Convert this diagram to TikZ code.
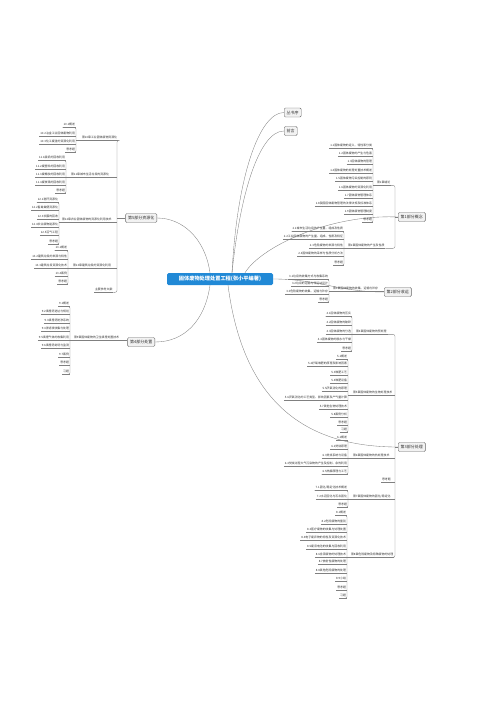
\documentclass[tikz,border=0pt]{standalone}
\usepackage{fontspec}
\usetikzlibrary{positioning,calc}
\newfontfamily\cjk{Noto Sans CJK SC}
\definecolor{MapBlue}{RGB}{33,137,214}
\definecolor{LineGray}{RGB}{128,128,128}
\definecolor{BoxGray}{RGB}{242,242,242}
\definecolor{TextGray}{RGB}{51,51,51}

\begin{document}
\begin{tikzpicture}[
    x=1pt, y=-1pt,
    link/.style={draw=LineGray, line width=0.35pt},
    root/.style={
        fill=MapBlue,
        rounded corners=1.5pt,
        text=white,
        font=\cjk\bfseries\fontsize{5.2}{6}\selectfont,
        minimum width=106pt,
        minimum height=12pt,
        inner sep=1pt
    },
    part/.style={
        draw=LineGray!80!black,
        fill=BoxGray,
        line width=0.4pt,
        rounded corners=1.2pt,
        font=\cjk\fontsize{4}{5}\selectfont,
        text=TextGray,
        minimum height=9pt,
        inner xsep=2.5pt,
        inner ysep=0pt,
        anchor=west
    },
    chap/.style={
        font=\cjk\fontsize{2.9}{3.5}\selectfont,
        text=TextGray,
        inner xsep=0.8pt,
        inner ysep=0.8pt,
        text height=2.2pt,
        text depth=0.5pt,
        anchor=west,
        append after command={(\tikzlastnode.south west) edge[link] (\tikzlastnode.south east)}
    },
    leaf/.style={chap, anchor=east}
]
\useasboundingbox (0,0) rectangle (500,707);

% centre and first level
\node[root] (root) at (220,279) {固体废物处理处置工程(张小平编著)};
\node[part] (cs) at (284,112.5) {丛书序};
\node[part] (qy) at (284,131) {前言};
\node[part] (p1) at (398,217) {第1部分概念};
\node[part] (p2) at (384,292) {第2部分收运};
\node[part] (p3) at (398,447) {第3部分处理};
\node[part, anchor=east] (p5) at (157,218) {第5部分资源化};
\node[part, anchor=east] (p4) at (155,342) {第4部分处置};

\draw[link] ([xshift=12pt]root.north) .. controls +(5,-95) and +(-25,0) .. (cs.west);
\draw[link] ([xshift=12pt]root.north) .. controls +(8,-78) and +(-25,0) .. (qy.west);
\draw[link] ([xshift=25pt]root.north) .. controls +(15,-25) and +(-70,-3) .. (p1.west);
\draw[link] (root.east) .. controls +(45,0) and +(-45,0) .. (p2.west);
\draw[link] ([xshift=8pt]root.south) .. controls +(15,115) and +(-95,0) .. (p3.west);
\draw[link] ([xshift=-10pt]root.north) .. controls +(-5,-35) and +(25,0) .. (p5.east);
\draw[link] ([xshift=-10pt]root.south) .. controls +(-5,35) and +(30,0) .. (p4.east);

% part 1
\node[chap] (g11) at (376,183) {第1章绪论};
\node[leaf] (g11-1) at (373,146) {1.1固体废物的定义、特性和分类};
\node[leaf] (g11-2) at (373,154) {1.2固体废物的产生与危害};
\node[leaf] (g11-3) at (373,162) {1.3固体废物的管理};
\node[leaf] (g11-4) at (373,171) {1.4固体废物的处理处置技术概述};
\node[leaf] (g11-5) at (373,179) {1.5固体废物污染控制的原则};
\node[leaf] (g11-6) at (373,188) {1.6固体废物的资源化利用};
\node[leaf] (g11-7) at (373,196) {1.7固体废物管理体系};
\node[leaf] (g11-8) at (373,204) {1.8我国固体废物管理的法律法规及标准体系};
\node[leaf] (g11-9) at (373,212) {1.9固体废物管理制度};
\node[leaf] (g11-10) at (373,220) {思考题};
\draw[link, rounded corners=1.5pt] (g11-1.south west) -- (g11-1.south east) -- (g11-10.south east) -- (g11-10.south west);
\draw[link] (g11-1.south east |- g11.south west) -- (g11.south west);

\node[chap] (g12) at (347,246) {第2章固体废物的产生及性质};
\node[leaf] (g12-1) at (344,229) {2.1城市生活垃圾的产生量、组成及性质};
\node[leaf] (g12-2) at (344,237) {2.2工业固体废物的产生量、组成、性质及特征};
\node[leaf] (g12-3) at (344,246) {2.3危险废物的来源与特性};
\node[leaf] (g12-4) at (344,254) {2.4固体废物的采样与性质分析方法};
\node[leaf] (g12-5) at (344,263) {思考题};
\draw[link, rounded corners=1.5pt] (g12-1.south west) -- (g12-1.south east) -- (g12-5.south east) -- (g12-5.south west);
\draw[link] (g12-1.south east |- g12.south west) -- (g12.south west);

\coordinate (c1) at (395,0);
\draw[link, rounded corners=2pt] (g11.south east) -- (g11.south east -| c1) -- (g12.south east -| c1) -- (g12.south east);
\draw[link] (p1.west) -- (p1.west -| c1);

% part 2
\node[chap] (g21) at (332,289) {第3章固体废物的收集、运输与贮存};
\node[leaf] (g21-1) at (329,277) {3.1垃圾的收集方式与收集系统};
\node[leaf] (g21-2) at (329,284) {3.2垃圾的运输与转运站设计};
\node[leaf] (g21-3) at (329,292) {3.3危险废物的收集、运输与贮存};
\node[leaf] (g21-4) at (329,300) {思考题};
\draw[link, rounded corners=1.5pt] (g21-1.south west) -- (g21-1.south east) -- (g21-4.south east) -- (g21-4.south west);
\draw[link] (g21-1.south east |- g21.south west) -- (g21.south west);
\draw[link] (g21.south east) -- (g21.south east -| p2.west);

% part 3
\node[chap] (g31) at (355,332) {第4章固体废物的预处理};
\node[leaf] (g31-1) at (352,314) {4.1固体废物的压实};
\node[leaf] (g31-2) at (352,323) {4.2固体废物的破碎};
\node[leaf] (g31-3) at (352,332) {4.3固体废物的分选};
\node[leaf] (g31-4) at (352,340) {4.4固体废物的脱水与干燥};
\node[leaf] (g31-5) at (352,349) {思考题};
\draw[link, rounded corners=1.5pt] (g31-1.south west) -- (g31-1.south east) -- (g31-5.south east) -- (g31-5.south west);
\draw[link] (g31-1.south east |- g31.south west) -- (g31.south west);

\node[chap] (g32) at (352,393) {第5章固体废物的生物处理技术};
\node[leaf] (g32-1) at (348,357) {5.1概述};
\node[leaf] (g32-2) at (348,364) {5.2好氧堆肥的原理及影响因素};
\node[leaf] (g32-3) at (348,373) {5.3堆肥工艺};
\node[leaf] (g32-4) at (348,381) {5.4堆肥设备};
\node[leaf] (g32-5) at (348,389) {5.5厌氧消化的原理};
\node[leaf] (g32-6) at (348,398) {5.6厌氧消化的工艺类型、影响因素及产气量计算};
\node[leaf] (g32-7) at (348,407) {5.7其他生物处理技术};
\node[leaf] (g32-8) at (348,415) {5.8案例分析};
\node[leaf] (g32-9) at (348,423) {思考题};
\node[leaf] (g32-10) at (348,430) {习题};
\draw[link, rounded corners=1.5pt] (g32-1.south west) -- (g32-1.south east) -- (g32-10.south east) -- (g32-10.south west);
\draw[link] (g32-1.south east |- g32.south west) -- (g32.south west);

\node[chap] (g33) at (352,456) {第6章固体废物的热处理技术};
\node[leaf] (g33-1) at (348,438) {6.1概述};
\node[leaf] (g33-2) at (348,447) {6.2焚烧原理};
\node[leaf] (g33-3) at (348,456) {6.3焚烧系统与设备};
\node[leaf] (g33-4) at (348,464) {6.4焚烧过程大气污染物的产生及控制、余热利用};
\node[leaf] (g33-5) at (348,472) {6.5热解原理与工艺};
\draw[link, rounded corners=1.5pt] (g33-1.south west) -- (g33-1.south east) -- (g33-5.south east) -- (g33-5.south west);
\draw[link] (g33-1.south east |- g33.south west) -- (g33.south west);

\node[chap] (g34) at (381,480) {思考题};

\node[chap] (g35) at (352,497) {第7章固体废物的固化/稳定化};
\node[leaf] (g35-1) at (348,488) {7.1固化/稳定化技术概述};
\node[leaf] (g35-2) at (348,497) {7.2水泥固化与石灰固化};
\node[leaf] (g35-3) at (348,505) {思考题};
\draw[link, rounded corners=1.5pt] (g35-1.south west) -- (g35-1.south east) -- (g35-3.south east) -- (g35-3.south west);
\draw[link] (g35-1.south east |- g35.south west) -- (g35.south west);

\node[chap] (g36) at (350,555) {第8章危险废物及特殊废物的处理};
\node[leaf] (g36-1) at (347,513) {8.1概述};
\node[leaf] (g36-2) at (347,522) {8.2危险废物的鉴别};
\node[leaf] (g36-3) at (347,530) {8.3医疗废物的收集与处理处置};
\node[leaf] (g36-4) at (347,538) {8.4电子废弃物的特性及资源化技术};
\node[leaf] (g36-5) at (347,547) {8.5废旧电池的收集与回收利用};
\node[leaf] (g36-6) at (347,555) {8.6含汞废物的处理技术};
\node[leaf] (g36-7) at (347,562) {8.7放射性废物的处理};
\node[leaf] (g36-8) at (347,571) {8.8其他危险废物的处理};
\node[leaf] (g36-9) at (347,579) {8.9小结};
\node[leaf] (g36-10) at (347,588) {思考题};
\node[leaf] (g36-11) at (347,596) {习题};
\draw[link, rounded corners=1.5pt] (g36-1.south west) -- (g36-1.south east) -- (g36-11.south east) -- (g36-11.south west);
\draw[link] (g36-1.south east |- g36.south west) -- (g36.south west);

\coordinate (c3) at (395,0);
\draw[link, rounded corners=2pt] (g31.south east) -- (g31.south east -| c3) -- (g36.south east -| c3) -- (g36.south east);
\draw[link] (g32.south east) -- (g32.south east -| c3);
\draw[link] (g33.south east) -- (g33.south east -| c3);
\draw[link] (g34.south east) -- (g34.south east -| c3);
\draw[link] (g35.south east) -- (g35.south east -| c3);
\draw[link] (p3.west) -- (p3.west -| c3);

% part 4
\node[chap] (g41) at (73,338) {第9章固体废物的卫生填埋处置技术};
\node[leaf] (g41-1) at (70,304) {9.1概述};
\node[leaf] (g41-2) at (70,312) {9.2填埋场选址与规划};
\node[leaf] (g41-3) at (70,321) {9.3填埋场防渗系统};
\node[leaf] (g41-4) at (70,329) {9.4渗滤液收集与处理};
\node[leaf] (g41-5) at (70,338) {9.5填埋气体的收集利用};
\node[leaf] (g41-6) at (70,346) {9.6填埋场封场与监测};
\node[leaf] (g41-7) at (70,355) {9.7案例};
\node[leaf] (g41-8) at (70,363) {思考题};
\node[leaf] (g41-9) at (70,372) {习题};
\draw[link, rounded corners=1.5pt] (g41-1.south west) -- (g41-1.south east) -- (g41-9.south east) -- (g41-9.south west);
\draw[link] (g41-1.south east |- g41.south west) -- (g41.south west);
\draw[link] (g41.south east) -- (g41.south east -| p4.west);

% part 5
\node[chap] (g51) at (81,138) {第10章工业固体废物资源化};
\node[leaf] (g51-1) at (76,125) {10.1概述};
\node[leaf] (g51-2) at (76,134) {10.2冶金工业固体废物利用};
\node[leaf] (g51-3) at (76,142) {10.3化工废渣的资源化利用};
\node[leaf] (g51-4) at (76,150) {思考题};
\draw[link, rounded corners=1.5pt] (g51-1.south west) -- (g51-1.south east) -- (g51-4.south east) -- (g51-4.south west);
\draw[link] (g51-1.south east |- g51.south west) -- (g51.south west);

\node[chap] (g52) at (70,175) {第11章城市生活垃圾的资源化};
\node[leaf] (g52-1) at (66,158) {11.1废纸的回收利用};
\node[leaf] (g52-2) at (66,167) {11.2废塑料的回收利用};
\node[leaf] (g52-3) at (66,175) {11.3废橡胶的回收利用};
\node[leaf] (g52-4) at (66,183) {11.4废玻璃的回收利用};
\node[leaf] (g52-5) at (66,191) {思考题};
\draw[link, rounded corners=1.5pt] (g52-1.south west) -- (g52-1.south east) -- (g52-5.south east) -- (g52-5.south west);
\draw[link] (g52-1.south east |- g52.south west) -- (g52.south west);

\node[chap] (g53) at (61,220) {第12章农业固体废物的资源化利用技术};
\node[leaf] (g53-1) at (59,200) {12.1秸秆资源化};
\node[leaf] (g53-2) at (59,208) {12.2畜禽粪便资源化};
\node[leaf] (g53-3) at (59,217) {12.3农膜的回收};
\node[leaf] (g53-4) at (59,225) {12.4农业废物能源化};
\node[leaf] (g53-5) at (59,233) {12.5沼气工程};
\node[leaf] (g53-6) at (59,242) {思考题};
\draw[link, rounded corners=1.5pt] (g53-1.south west) -- (g53-1.south east) -- (g53-6.south east) -- (g53-6.south west);
\draw[link] (g53-1.south east |- g53.south west) -- (g53.south west);

\node[chap] (g54) at (72,266) {第13章建筑垃圾的资源化利用};
\node[leaf] (g54-1) at (68,248) {13.1概述};
\node[leaf] (g54-2) at (68,257) {13.2建筑垃圾的来源与特性};
\node[leaf] (g54-3) at (68,266) {13.3建筑垃圾资源化技术};
\node[leaf] (g54-4) at (68,274) {13.4案例};
\node[leaf] (g54-5) at (68,282) {思考题};
\draw[link, rounded corners=1.5pt] (g54-1.south west) -- (g54-1.south east) -- (g54-5.south east) -- (g54-5.south west);
\draw[link] (g54-1.south east |- g54.south west) -- (g54.south west);

\node[chap] (g55) at (94,290) {主要参考文献};

\coordinate (c5) at (117,0);
\draw[link, rounded corners=2pt] (g51.south east) -- (g51.south east -| c5) -- (g55.south east -| c5) -- (g55.south east);
\draw[link] (g52.south east) -- (g52.south east -| c5);
\draw[link] (g53.south east) -- (g53.south east -| c5);
\draw[link] (g54.south east) -- (g54.south east -| c5);
\draw[link] (p5.west) -- (p5.west -| c5);

\end{tikzpicture}
\end{document}
